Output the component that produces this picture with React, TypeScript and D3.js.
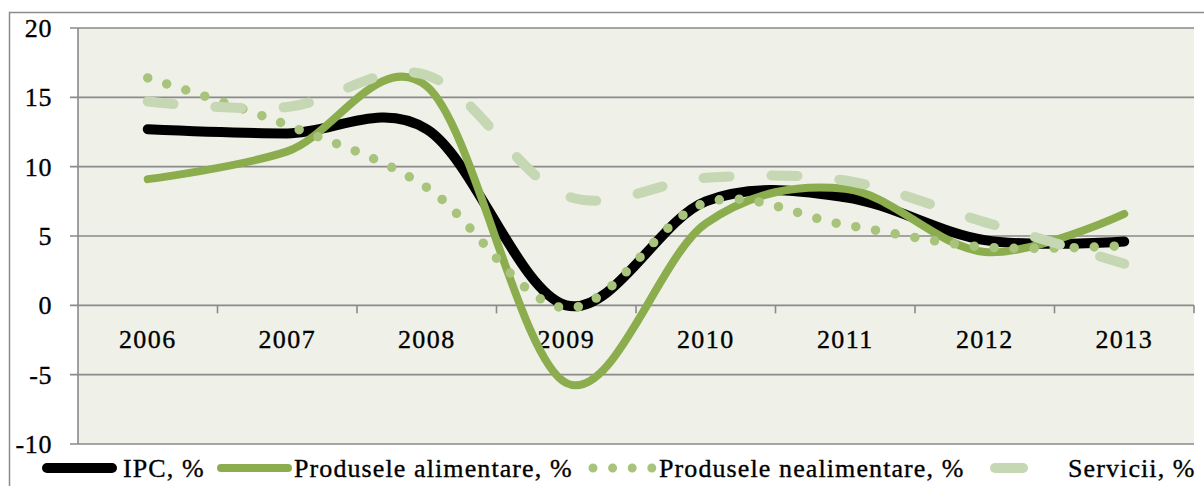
import React from "react";
import * as d3 from "d3";

const years = ["2006", "2007", "2008", "2009", "2010", "2011", "2012", "2013"];
const ipc = [12.7, 12.4, 12.7, 0.0, 7.5, 7.8, 4.7, 4.6];
const food = [9.1, 11.1, 15.8, -5.6, 5.9, 8.4, 3.85, 6.6];
const nonfood = [16.4, 13.0, 8.5, -0.2, 7.4, 5.8, 4.2, 4.3];
const services = [14.7, 14.3, 16.6, 7.9, 9.2, 9.0, 6.0, 3.0];
const yTicks = [-10, -5, 0, 5, 10, 15, 20];
const seriesNames = ["IPC, %", "Produsele alimentare, %", "Produsele nealimentare, %", "Servicii, %"];

const W = 1204;
const H = 486;
const plot = { left: 78, right: 1194, top: 28, bottom: 444 };
const FONT = "'Liberation Serif', 'Times New Roman', serif";
const GRID = "#8a8a8a";

const styles = [
  { stroke: "#000000", width: 10, dash: undefined as string | undefined },
  { stroke: "#8cad4e", width: 8, dash: undefined as string | undefined },
  { stroke: "#a8c47c", width: 9.5, dash: "0 20" },
  { stroke: "#c6d7b3", width: 10, dash: "26 42" },
];

export default function App() {
  const x = d3.scaleBand<string>().domain(years).range([plot.left, plot.right]).padding(0);
  const bw = x.bandwidth();
  const cx = (yr: string) => (x(yr) as number) + bw / 2;
  const y = d3.scaleLinear().domain([-10, 20]).range([plot.bottom, plot.top]);

  const line = d3
    .line<number>()
    .x((_, i) => cx(years[i]))
    .y((v) => y(v))
    .curve(d3.curveCatmullRom.alpha(0));

  const allSeries = [ipc, food, nonfood, services];

  const boundaries = years.map((yr) => (x(yr) as number) + bw).slice(0, -1).concat([plot.right]);

  const legend = [
    { x0: 47, x1: 112, tx: 123, dash: undefined as string | undefined, w: 10 },
    { x0: 221, x1: 288, tx: 294, dash: undefined as string | undefined, w: 8 },
    { x0: 593, x1: 655, tx: 659, dash: "0 19.6", w: 9 },
    { x0: 995, x1: 1060, tx: 1068, dash: "28 100", w: 10 },
  ];
  const legY = 468;
  const textStyle = { stroke: "#000", strokeWidth: 0.35 };

  return (
    <svg
      width={W}
      height={H}
      style={{ position: "absolute", left: 0, top: 0, background: "#ffffff" }}
      fontFamily={FONT}
    >
      <rect x={0} y={0} width={W} height={H} fill="#ffffff" />
      {/* outer border */}
      <rect x={9.5} y={12.5} width={1200} height={490} fill="none" stroke="#8c8c8c" strokeWidth={1.5} />
      {/* plot background */}
      <rect
        x={plot.left}
        y={plot.top}
        width={plot.right - plot.left}
        height={plot.bottom - plot.top}
        fill="#eff1e8"
      />
      {/* gridlines and y ticks */}
      {yTicks.map((t) => (
        <g key={t}>
          <line x1={70} x2={plot.right} y1={y(t)} y2={y(t)} stroke={GRID} strokeWidth={1.6} />
          <text
            x={52}
            y={y(t) + 9}
            textAnchor="end"
            fontSize={26}
            letterSpacing={0.6}
            fill="#000"
            {...textStyle}
          >
            {t}
          </text>
        </g>
      ))}
      {/* y axis line */}
      <line x1={plot.left} x2={plot.left} y1={plot.top} y2={plot.bottom} stroke={GRID} strokeWidth={1.6} />
      {/* category ticks at y=0 */}
      {boundaries.map((bx, i) => (
        <line key={i} x1={bx} x2={bx} y1={y(0)} y2={y(0) + 8} stroke={GRID} strokeWidth={1.6} />
      ))}
      {years.map((yr) => (
        <text
          key={yr}
          x={cx(yr)}
          y={348}
          textAnchor="middle"
          fontSize={26}
          letterSpacing={1.4}
          fill="#000"
          {...textStyle}
        >
          {yr}
        </text>
      ))}
      {/* series */}
      {allSeries.map((s, i) => (
        <path
          key={i}
          d={line(s) as string}
          fill="none"
          stroke={styles[i].stroke}
          strokeWidth={styles[i].width}
          strokeDasharray={styles[i].dash}
          strokeLinecap="round"
          strokeLinejoin="round"
        />
      ))}
      {/* legend */}
      {legend.map((l, i) => (
        <g key={i}>
          <line
            x1={l.x0}
            x2={l.x1}
            y1={legY}
            y2={legY}
            stroke={styles[i].stroke}
            strokeWidth={l.w}
            strokeDasharray={l.dash}
            strokeLinecap="round"
          />
          <text x={l.tx} y={legY + 9} fontSize={26} letterSpacing={1.1} fill="#000" {...textStyle}>
            {seriesNames[i]}
          </text>
        </g>
      ))}
    </svg>
  );
}
